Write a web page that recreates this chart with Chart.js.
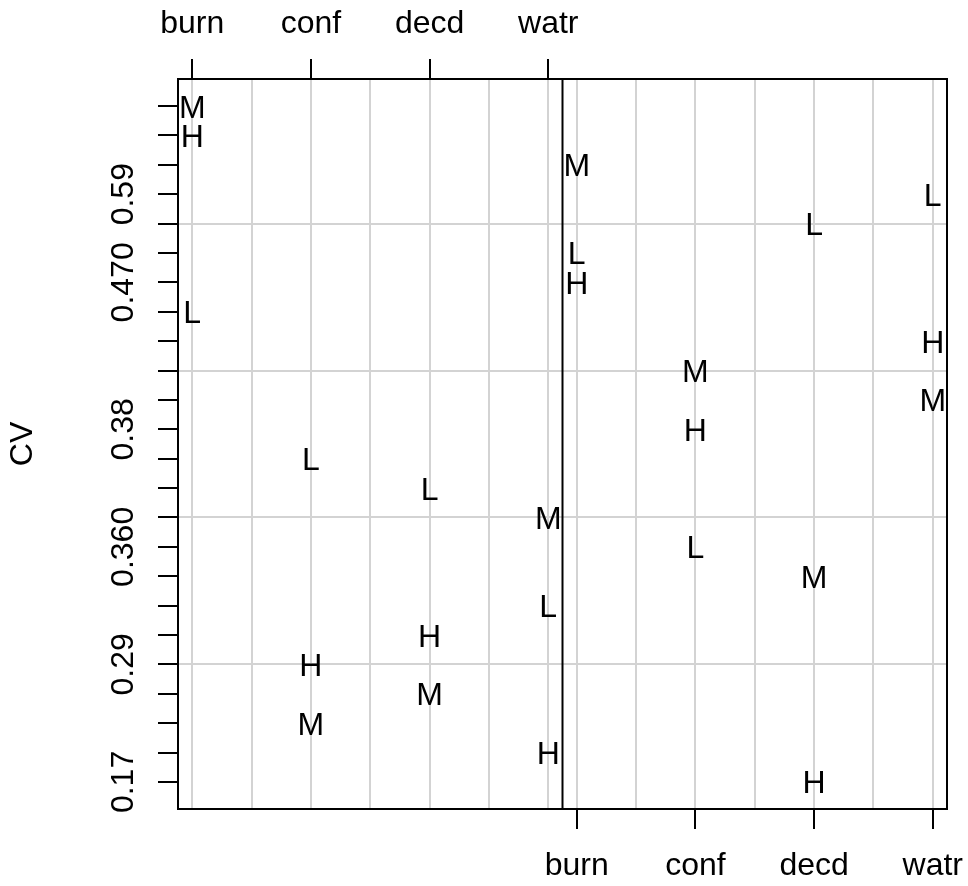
<!DOCTYPE html>
<html>
<head>
<meta charset="utf-8">
<script src="https://cdn.jsdelivr.net/npm/chart.js@4.4.1/dist/chart.umd.min.js"></script>
<style>
  html, body { margin: 0; padding: 0; background: #ffffff; overflow: hidden; }
  #wrap { width: 968px; height: 886px; position: relative; }
  #cv { display: block; }
</style>
</head>
<body>
<div id="wrap"><canvas id="cv"></canvas></div>
<script>
// Sites and treatment levels
const categories = ['burn', 'conf', 'decd', 'watr'];
const levels = ['L', 'M', 'H'];

// Rank of CV among all 24 site/level combinations (1 = lowest)
const firstL  = [17, 12, 11, 7];
const firstM  = [24, 3, 4, 10];
const firstH  = [23, 5, 6, 2];
const secondL = [19, 9, 20, 21];
const secondM = [22, 15, 8, 14];
const secondH = [18, 13, 1, 16];

// CV value labels shown on the rank axis (blank where a label would overlap)
const yTickLabels = ['0.17', '', '', '', '0.29', '', '', '', '0.360', '', '', '', '0.38',
                     '', '', '', '', '0.470', '', '', '0.59', '', '', ''];

const FONT = '"Liberation Sans", Arial, Helvetica, sans-serif';
Chart.defaults.font.family = FONT;
Chart.defaults.color = '#000';

// axis extents with 4% extension on each side
const nCat = categories.length;
const catSpan = nCat - 1;
const catPad = catSpan * 0.04;
const panelWidth = catSpan + 2 * catPad;
const xMin = 1 - catPad;
const divider = xMin + panelWidth;
const xMax = xMin + 2 * panelWidth;

const nRank = yTickLabels.length;
const yPad = (nRank - 1) * 0.04;
const yMin = 1 - yPad;
const yMax = nRank + yPad;

// grid at half-category steps in each panel
const gridStep = 0.5;
const gridValues = [];
[0, panelWidth].forEach(off => {
  for (let v = 1; v <= nCat + 1e-9; v += gridStep) gridValues.push(v + off);
});
const rankTicks = yTickLabels.map((_, i) => i + 1);

function catIndex(value, off) {
  const k = Math.round(value - off - 1);
  if (k >= 0 && k < nCat && Math.abs(value - off - 1 - k) < 1e-6) return k;
  return -1;
}

function series(values, label, off) {
  return {
    label: label,
    data: values.map((v, i) => ({ x: i + 1 + off, y: v })),
    pointRadius: 0,
    pointHoverRadius: 0,
    showLine: false
  };
}

const datasets = [
  series(firstL, levels[0], 0),
  series(firstM, levels[1], 0),
  series(firstH, levels[2], 0),
  series(secondL, levels[0], panelWidth),
  series(secondM, levels[1], panelWidth),
  series(secondH, levels[2], panelWidth)
];

// fixed axis box sizes, no extra overflow padding
function fixBox(size) {
  return s => {
    if (s.isHorizontal()) s.height = size; else s.width = size;
    s.paddingLeft = 0; s.paddingRight = 0; s.paddingTop = 0; s.paddingBottom = 0;
  };
}

const letterPlugin = {
  id: 'letterMarks',
  afterDatasetsDraw(chart) {
    const ctx = chart.ctx;
    ctx.save();
    ctx.font = '32px ' + FONT;
    ctx.fillStyle = '#000';
    ctx.textAlign = 'center';
    ctx.textBaseline = 'alphabetic';
    chart.data.datasets.forEach((ds, i) => {
      chart.getDatasetMeta(i).data.forEach(el => {
        ctx.fillText(ds.label, el.x, el.y + 11.5);
      });
    });
    ctx.restore();
  },
  afterDraw(chart) {
    const { ctx, chartArea: a, scales } = chart;
    ctx.save();
    // frame and panel divider
    ctx.strokeStyle = '#000';
    ctx.lineWidth = 2;
    ctx.strokeRect(a.left, a.top, a.right - a.left, a.bottom - a.top);
    const xd = scales.x.getPixelForValue(divider);
    ctx.beginPath();
    ctx.moveTo(xd, a.top);
    ctx.lineTo(xd, a.bottom);
    ctx.stroke();
    // rotated labels on the rank axis
    ctx.font = '32px ' + FONT;
    ctx.fillStyle = '#000';
    ctx.textAlign = 'center';
    ctx.textBaseline = 'alphabetic';
    scales.y.ticks.forEach(t => {
      const lab = yTickLabels[t.value - 1];
      if (!lab) return;
      const py = scales.y.getPixelForValue(t.value);
      ctx.save();
      ctx.translate(a.left - 45, py);
      ctx.rotate(-Math.PI / 2);
      ctx.fillText(lab, 0, 0);
      ctx.restore();
    });
    ctx.restore();
  }
};

new Chart(document.getElementById('cv'), {
  type: 'scatter',
  data: { datasets: datasets },
  plugins: [letterPlugin],
  options: {
    responsive: true,
    maintainAspectRatio: false,
    animation: false,
    layout: { autoPadding: false, padding: { left: 0, right: 21, top: 0, bottom: 0 } },
    plugins: { legend: { display: false }, tooltip: { enabled: false } },
    scales: {
      x: {
        type: 'linear',
        position: 'top',
        min: xMin,
        max: xMax,
        afterBuildTicks: s => { s.ticks = gridValues.map(v => ({ value: v })); },
        afterFit: fixBox(79),
        border: { display: false },
        grid: {
          color: '#d3d3d3',
          lineWidth: 2,
          tickLength: 20,
          tickWidth: 2,
          tickColor: c => (c.tick && catIndex(c.tick.value, 0) >= 0) ? '#000' : 'rgba(0,0,0,0)'
        },
        ticks: {
          autoSkip: false,
          minRotation: 0,
          maxRotation: 0,
          padding: 16,
          color: '#000',
          font: { size: 32 },
          callback: v => { const k = catIndex(v, 0); return k >= 0 ? categories[k] : ''; }
        }
      },
      x2: {
        type: 'linear',
        axis: 'x',
        position: 'bottom',
        min: xMin,
        max: xMax,
        afterBuildTicks: s => { s.ticks = categories.map((_, i) => ({ value: i + 1 + panelWidth })); },
        afterFit: fixBox(77),
        border: { display: false },
        grid: {
          drawOnChartArea: false,
          tickLength: 20,
          tickWidth: 2,
          lineWidth: 2,
          tickColor: '#000'
        },
        ticks: {
          autoSkip: false,
          minRotation: 0,
          maxRotation: 0,
          padding: 18,
          color: '#000',
          font: { size: 32 },
          callback: v => { const k = catIndex(v, panelWidth); return k >= 0 ? categories[k] : ''; }
        }
      },
      y: {
        type: 'linear',
        position: 'left',
        min: yMin,
        max: yMax,
        afterBuildTicks: s => { s.ticks = rankTicks.map(v => ({ value: v })); },
        afterFit: fixBox(178),
        border: { display: false },
        grid: {
          color: c => (c.tick && c.tick.value % 5 === 0) ? '#d3d3d3' : 'rgba(0,0,0,0)',
          lineWidth: 2,
          tickLength: 20,
          tickWidth: 2,
          tickColor: '#000'
        },
        ticks: { display: false },
        title: {
          display: true,
          text: 'CV',
          color: '#000',
          font: { size: 32 },
          padding: { top: 4, bottom: 4 }
        }
      }
    }
  }
});
</script>
</body>
</html>
